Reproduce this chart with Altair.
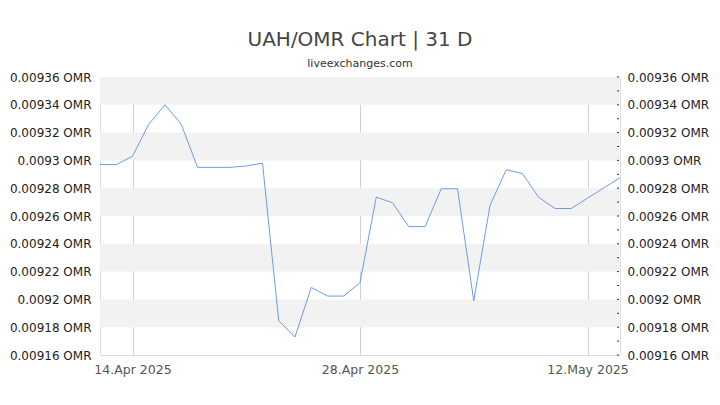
import altair as alt
import pandas as pd

dates = pd.date_range("2025-04-12", "2025-05-14", freq="D").strftime("%Y-%m-%d").tolist()
rates = [
    0.009297, 0.009297, 0.009303, 0.009326, 0.009340, 0.009326, 0.009295,
    0.009295, 0.009295, 0.009296, 0.009298, 0.0091846, 0.009173, 0.0092086,
    0.0092024, 0.0092024, 0.009212, 0.0092736, 0.0092695, 0.0092524, 0.0092524,
    0.0092796, 0.0092796, 0.009199, 0.0092676, 0.0092933, 0.0092905, 0.0092734,
    0.0092654, 0.0092654, 0.0092728, 0.0092802, 0.0092876,
]
major_ticks = [0.00916, 0.00918, 0.0092, 0.00922, 0.00924, 0.00926,
               0.00928, 0.0093, 0.00932, 0.00934, 0.00936]
all_ticks = [0.00916, 0.00917, 0.00918, 0.00919, 0.0092, 0.00921, 0.00922,
             0.00923, 0.00924, 0.00925, 0.00926, 0.00927, 0.00928, 0.00929,
             0.0093, 0.00931, 0.00932, 0.00933, 0.00934, 0.00935, 0.00936]
x_ticks = ["2025-04-14", "2025-04-28", "2025-05-12"]

df = pd.DataFrame({"date": dates, "rate": rates})
bands = pd.DataFrame({"lo": major_ticks[1::2], "hi": major_ticks[2::2]})
ticks_df = pd.DataFrame({"v": all_ticks})

FONT = "DejaVu Sans"
ydom = [major_ticks[0], major_ticks[-1]]
label_expr = "format(datum.value, '.3~r') + ' OMR'"

def xdt(s):
    y, m, d = map(int, s.split("-"))
    return alt.DateTime(year=y, month=m, date=d, utc=True)

x_enc = alt.X(
    "date:T",
    scale=alt.Scale(type="utc", domain=[xdt(dates[0]), xdt(dates[-1])]),
    axis=alt.Axis(
        values=[xdt(s) for s in x_ticks],
        labelExpr="utcFormat(datum.value, '%d.%b %Y')",
        grid=True, gridColor="#cfcfcf", tickSize=0, domain=False,
        labelPadding=8, labelColor="#555", labelFontSize=12.5, labelFont=FONT,
        title=None,
    ),
)

yscale = alt.Scale(domain=ydom, nice=False, zero=False)
left_axis = alt.Axis(values=major_ticks, labelExpr=label_expr, tickSize=0,
                     domain=False, grid=False, labelPadding=9,
                     labelColor="#222", labelFontSize=12, labelFont=FONT,
                     title=None)

band_layer = alt.Chart(bands).mark_rect(color="#f2f2f2").encode(
    x=alt.value(0),
    x2=alt.value({"expr": "width"}),
    y=alt.Y("lo:Q", scale=yscale, axis=left_axis),
    y2="hi:Q",
)

line_layer = alt.Chart(df).mark_line(color="#6d9bea", strokeWidth=1).encode(
    x=x_enc,
    y=alt.Y("rate:Q", scale=yscale, axis=left_axis),
)

tick_layer = alt.Chart(ticks_df).mark_rule(color="#333", strokeWidth=1).encode(
    x=alt.value({"expr": "width-3"}),
    x2=alt.value({"expr": "width-1"}),
    y=alt.Y("v:Q", scale=yscale,
            axis=alt.Axis(orient="right", values=major_ticks, labelExpr=label_expr,
                          tickSize=0, domain=False, grid=False, labelPadding=7,
                          labelColor="#222", labelFontSize=12, labelFont=FONT,
                          title=None)),
)

chart = alt.layer(
    alt.layer(band_layer, line_layer),
    tick_layer,
).resolve_scale(y="independent").properties(
    width=520,
    height=278,
    autosize=alt.AutoSizeParams(type="none"),
    padding={"left": 92, "top": 69, "right": 92, "bottom": 30},
    title=alt.Title(
        "UAH/OMR Chart | 31 D",
        subtitle="liveexchanges.com",
        font=FONT, fontSize=20, fontWeight="normal", color="#444",
        subtitleFont=FONT, subtitleFontSize=11, subtitleColor="#333",
        subtitlePadding=8, offset=2, anchor="middle",
    ),
).configure_view(stroke="#d6d6d6").configure(background="white")

chart.save("out.html", embed_options={"renderer": "svg", "actions": False})
